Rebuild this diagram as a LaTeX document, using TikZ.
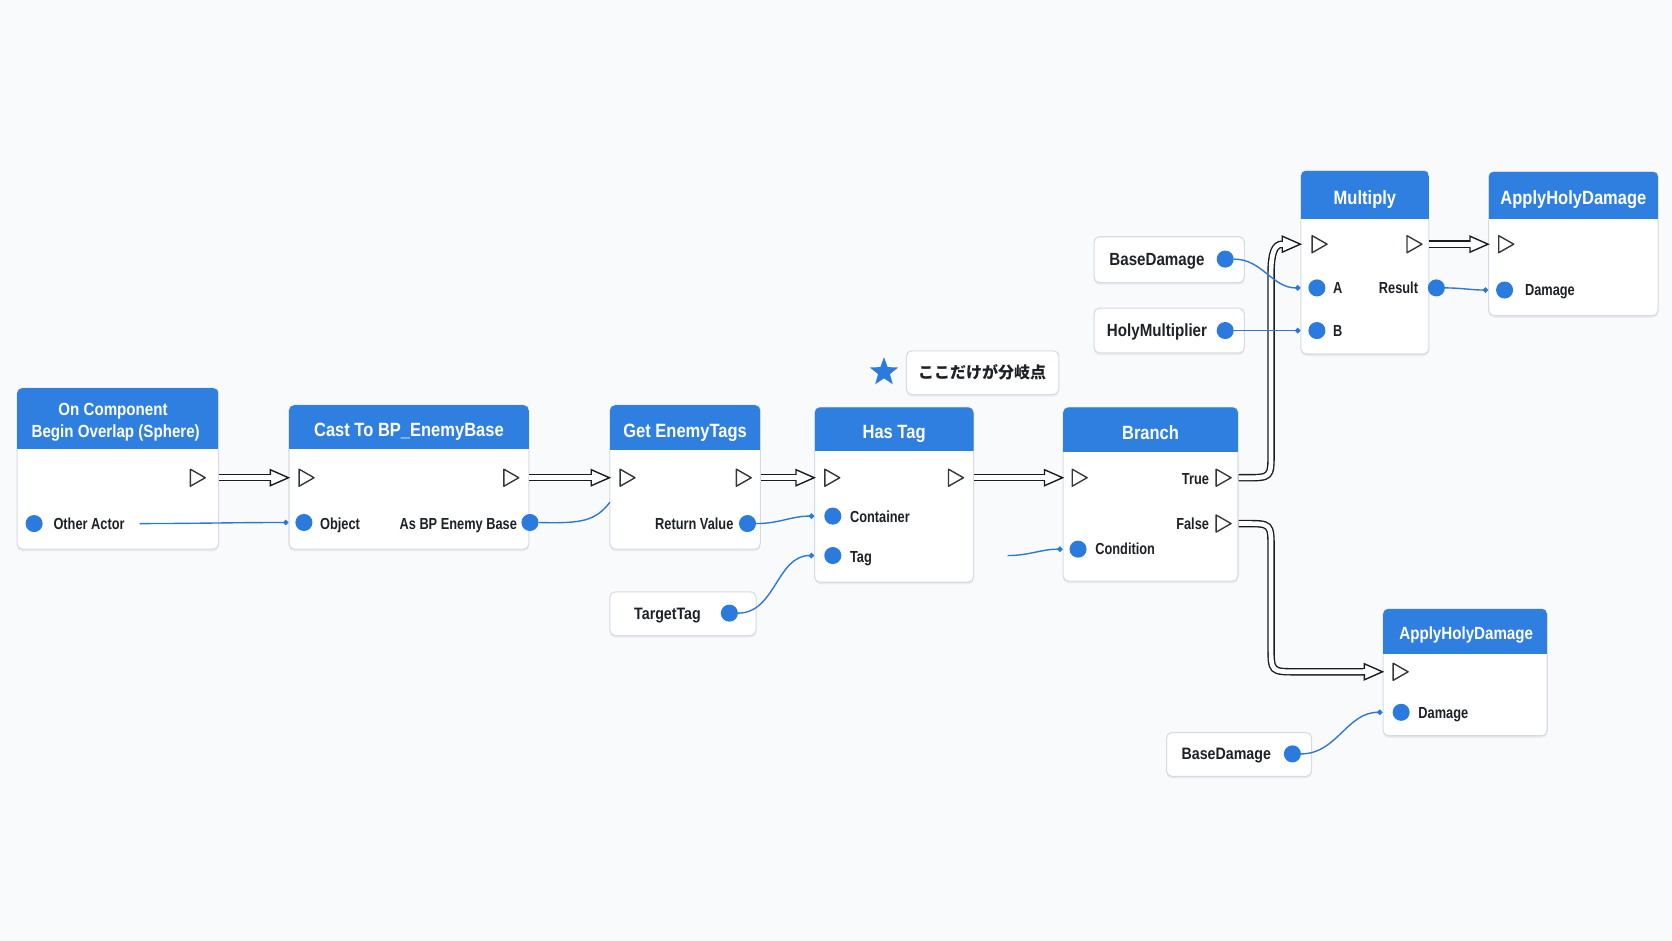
\documentclass[tikz,border=0pt]{standalone}
\usepackage{fontspec}
\setmainfont{Liberation Sans}[FakeStretch=0.86]
\newfontfamily\lblfont{Liberation Sans}[FakeStretch=0.8]
\newfontfamily\cjk{Noto Sans CJK JP}
\usetikzlibrary{shapes.geometric,shadows,fit,arrows.meta,calc}
\definecolor{bgc}{HTML}{F9FAFB}
\definecolor{hdrblue}{HTML}{2F7FE0}
\definecolor{pinblue}{HTML}{2B7ADE}
\definecolor{wireblue}{HTML}{2C77D8}
\definecolor{bordergray}{HTML}{D6DBE1}
\definecolor{textdark}{HTML}{1E2227}
\definecolor{execblack}{HTML}{1A1C20}
\definecolor{pingray}{HTML}{34373C}
\tikzset{
  box/.style={draw=bordergray, line width=1pt, fill=white, rounded corners=5pt, inner sep=0pt,
    drop shadow={shadow xshift=0pt, shadow yshift=-2pt, opacity=0.12}},
  ttl/.style={text=white, font=\bfseries\fontsize{18}{21}\selectfont, inner sep=0pt, text height=12.9pt, text depth=0pt, yshift=-2.5pt},
  ttls/.style={text=white, font=\bfseries\fontsize{16.5}{19}\selectfont, inner sep=0pt, text height=11.8pt, text depth=0pt},
  lbl/.style={text=textdark, font=\lblfont\bfseries\fontsize{15}{17}\selectfont, inner sep=0pt, text height=10.7pt, text depth=0pt},
  vlbl/.style={text=textdark, font=\bfseries\fontsize{16.5}{18}\selectfont, inner sep=0pt, text height=11.8pt, text depth=0pt},
  datapin/.style={circle, fill=pinblue, minimum size=16pt, inner sep=0pt},
  wire/.style={draw=wireblue, line width=1.3pt, -{Circle[length=5pt]}},
  wirenodot/.style={draw=wireblue, line width=1.3pt},
  execwire/.style={draw=execblack, line width=7pt, postaction={draw=white, line width=4.4pt}},
  xpinstyle/.style={draw=pingray, line width=1.3pt, fill=white, line join=round},
}
\newcommand\bpbox[6]{%
  \node[box, fit={(#2,#3) (#4,#5)}] (#1) {};
  \begin{scope}
    \clip[rounded corners=5pt] (#2,#3) rectangle (#4,#5);
    \fill[hdrblue] (#2,#3) rectangle (#4,#6);
  \end{scope}
}
\newcommand\bpnode[7]{%
  \bpbox{#1}{#2}{#3}{#4}{#5}{#6}
  \node[ttl] (#1-t) at ({(#2+#4)/2},{(#3+#6)/2}) {#7};
}
\newcommand\xpin[3]{%
  \coordinate (#1) at (#2,#3);
  \draw[xpinstyle] (#1) ++(-6.5,-8) -- ++(14,8) -- ++(-14,8) -- cycle;
}
\newcommand\xhead[1]{%
  \draw[draw=execblack, line width=1.3pt, fill=white, line join=miter] (#1) -- ++(-17,-7.5) -- ++(0,15) -- cycle;
  \draw[white, line width=4.4pt] (#1) ++(-18.5,0) -- ++(3,0);
}
\begin{document}
\begin{tikzpicture}[x=1pt, y=-1pt]
\useasboundingbox (0,0) rectangle (1568,882);
\fill[bgc] (0,0) rectangle (1568,882);

% ---------- Event node
\bpbox{ev}{16}{364}{205}{515}{421}
\node[ttls] (ev-t1) at (106,383.5) {On Component};
\node[ttls] (ev-t2) at (108.5,404.5) {Begin Overlap (Sphere)};
\xpin{ev-xo}{185}{448}
\node[datapin] (ev-oa) at (32,491) {};
\node[lbl, anchor=west] (ev-oal) at (50,491) {Other Actor};
\coordinate (oa-w) at (131,491);

% ---------- Cast
\bpnode{cast}{271}{380}{496}{515}{421}{Cast To BP\_EnemyBase}
\xpin{cast-xi}{287}{448}
\xpin{cast-xo}{479}{448}
\node[datapin] (cast-obj) at (285,490) {};
\node[lbl, anchor=west] at (300,491) {Object};
\node[lbl, anchor=east] at (485,491) {As BP Enemy Base};
\node[datapin] (cast-as) at (497,490) {};

% ---------- Get EnemyTags
\bpnode{get}{572}{380}{713}{515}{422}{Get EnemyTags}
\xpin{get-xi}{588}{448}
\xpin{get-xo}{697}{448}
\node[lbl, anchor=east] at (688,491) {Return Value};
\node[datapin] (get-rv) at (701,491) {};
\coordinate (get-hid) at (572,471);

% ---------- Has Tag
\bpnode{has}{764}{382}{913}{546}{423}{Has Tag}
\xpin{has-xi}{780}{448}
\xpin{has-xo}{896}{448}
\node[datapin] (has-c) at (781,484) {};
\node[lbl, anchor=west] at (797,485) {Container};
\node[datapin] (has-t) at (781,521) {};
\node[lbl, anchor=west] at (797,522) {Tag};

% ---------- TargetTag
\node[box, fit={(572,555) (709,596)}] (tt) {};
\node[vlbl, font=\bfseries\fontsize{15.5}{17}\selectfont, text height=11.1pt] at (626,575) {TargetTag};
\node[datapin] (tt-p) at (684,575) {};

% ---------- Note
\node[star, star points=5, star point ratio=2.4, fill=pinblue, minimum size=28pt, inner sep=0pt] (star) at (829,349) {};
\node[box, fit={(850,329) (993,370)}] (note) {};
\node[text=textdark, font=\cjk\bfseries\fontsize{15}{17}\selectfont, inner sep=0pt] at (921,349) {ここだけが分岐点};

% ---------- Branch
\bpnode{br}{997}{382}{1161}{545}{424}{Branch}
\xpin{br-xi}{1012}{448}
\xpin{br-xt}{1147}{448}
\node[lbl, anchor=east] at (1134,449) {True};
\xpin{br-xf}{1147}{491}
\node[lbl, anchor=east] at (1134,491) {False};
\node[datapin] (br-c) at (1011,515) {};
\node[lbl, anchor=west] at (1027,515) {Condition};
\coordinate (cond-w) at (945,521);

% ---------- Multiply
\bpnode{mul}{1220}{160}{1340}{332}{205}{Multiply}
\xpin{mul-xi}{1237}{229}
\xpin{mul-xo}{1326}{229}
\node[datapin] (mul-a) at (1235,270) {};
\node[lbl, anchor=west] at (1250,270) {A};
\node[lbl, anchor=east] at (1330,270) {Result};
\node[datapin] (mul-r) at (1347,270) {};
\node[datapin] (mul-b) at (1235,310) {};
\node[lbl, anchor=west] at (1250,310) {B};

% ---------- BaseDamage / HolyMultiplier
\node[box, fit={(1026,222) (1167,265)}] (bd1) {};
\node[vlbl] at (1085,243) {BaseDamage};
\node[datapin] (bd1-p) at (1149,243) {};
\node[box, fit={(1026,289) (1167,331)}] (hm) {};
\node[vlbl] at (1085,310) {HolyMultiplier};
\node[datapin] (hm-p) at (1149,310) {};

% ---------- ApplyHolyDamage top
\bpnode{ap1}{1396}{161}{1555}{296}{205}{ApplyHolyDamage}
\xpin{ap1-xi}{1412}{229}
\node[datapin] (ap1-d) at (1411,272) {};
\node[lbl, anchor=west] at (1430,272) {Damage};

% ---------- ApplyHolyDamage bottom
\bpbox{ap2}{1297}{571}{1451}{690}{613}
\node[ttls] (ap2-t) at (1375,593.5) {ApplyHolyDamage};
\xpin{ap2-xi}{1313}{630}
\node[datapin] (ap2-d) at (1314,668) {};
\node[lbl, anchor=west] at (1330,668) {Damage};

% ---------- BaseDamage bottom
\node[box, fit={(1094,687) (1230,728)}] (bd2) {};
\node[vlbl, font=\bfseries\fontsize{15.5}{17}\selectfont, text height=11.1pt] at (1150,707) {BaseDamage};
\node[datapin] (bd2-p) at (1212,707) {};

% ---------- Exec wires
\draw[execwire] (ev.east |- ev-xo) -- ($(cast.west |- cast-xi)+(-17,0)$);
\xhead{cast.west |- cast-xi}
\draw[execwire] (cast.east |- cast-xo) -- ($(get.west |- get-xi)+(-17,0)$);
\xhead{get.west |- get-xi}
\draw[execwire] (get.east |- get-xo) -- ($(has.west |- has-xi)+(-17,0)$);
\xhead{has.west |- has-xi}
\draw[execwire] (has.east |- has-xo) -- ($(br.west |- br-xi)+(-17,0)$);
\xhead{br.west |- br-xi}
\draw[execwire] (br.east |- br-xt) -- (1168,448) .. controls (1192,448) .. (1192,424) -- (1192,256) .. controls (1192,238) and (1195,229) .. ($(mul.west |- mul-xi)+(-17,0)$);
\xhead{mul.west |- mul-xi}
\draw[execwire] (br.east |- br-xf) -- (1168,491) .. controls (1192,491) .. (1192,515) -- (1192,606) .. controls (1192,630) .. (1216,630) -- ($(ap2.west |- ap2-xi)+(-17,0)$);
\xhead{ap2.west |- ap2-xi}
\draw[execwire] (mul.east |- mul-xo) -- ($(ap1.west |- ap1-xi)+(-17,0)$);
\xhead{ap1.west |- ap1-xi}

% ---------- Data wires
\draw[wire] (oa-w) to[out=0, in=180] (cast.west |- cast-obj);
\draw[wirenodot] (cast-as.east) .. controls (545,491) and (558,489) .. (get-hid);
\draw[wire] (get-rv.east) to[out=0, in=180] (has.west |- has-c);
\draw[wire] (tt-p.east) to[out=0, in=180] (has.west |- has-t);
\draw[wire] (cond-w) to[out=0, in=180] (br.west |- br-c);
\draw[wire] (bd1-p.east) to[out=0, in=180] (mul.west |- mul-a);
\draw[wire] (hm-p.east) -- (mul.west |- mul-b);
\draw[wire] (mul-r.east) to[out=0, in=180] (ap1.west |- ap1-d);
\draw[wire] (bd2-p.east) to[out=0, in=180] (ap2.west |- ap2-d);
\end{tikzpicture}
\end{document}
